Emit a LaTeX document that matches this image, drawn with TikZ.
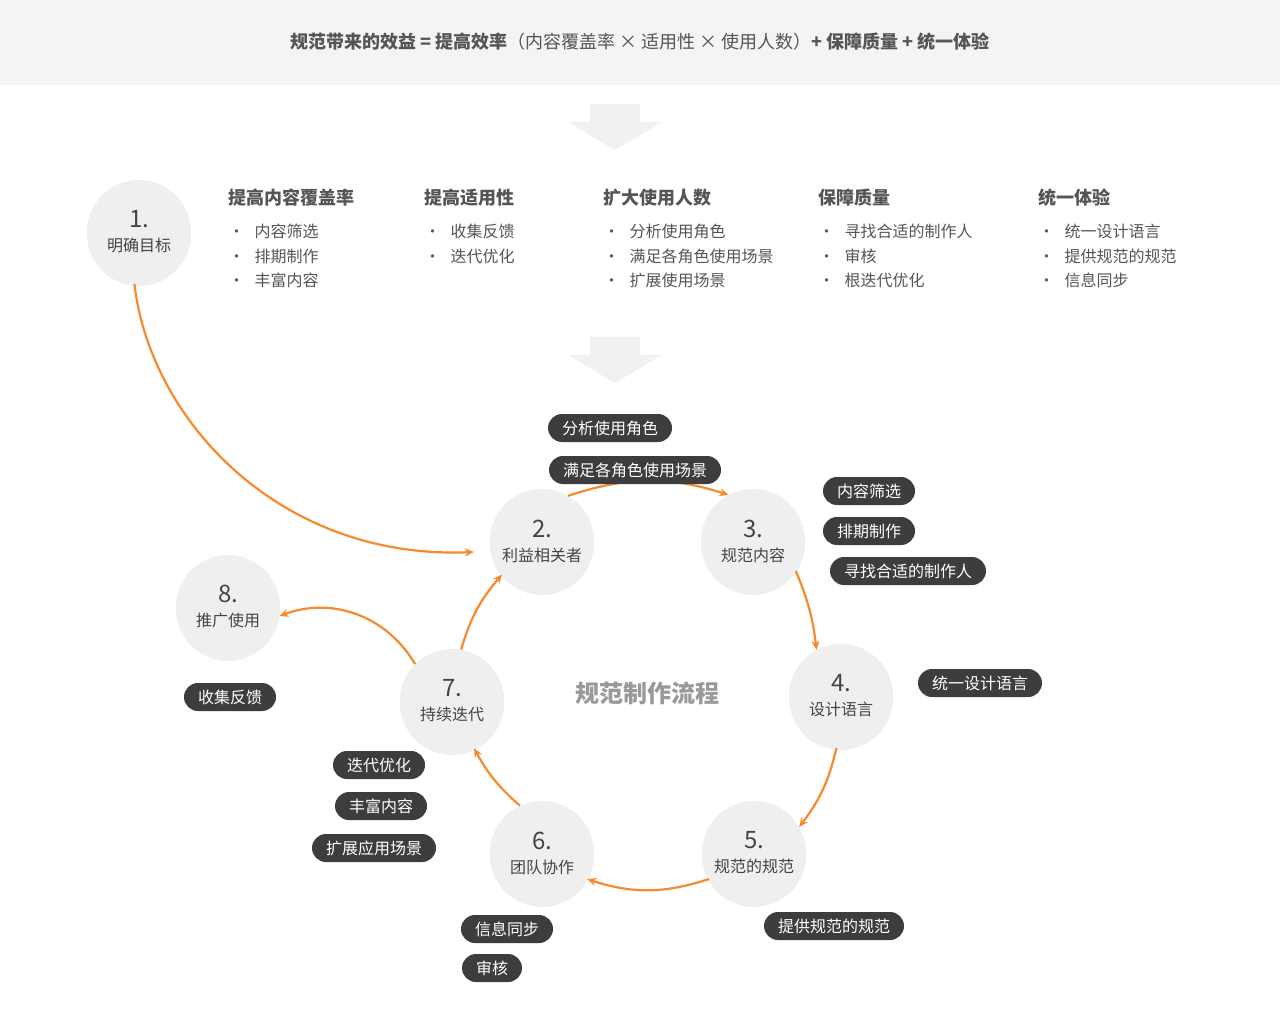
\documentclass[tikz,border=0pt]{standalone}
\usepackage{fontspec}
\setmainfont{Noto Sans CJK SC}
\usetikzlibrary{shadows,arrows.meta}
\definecolor{org}{HTML}{F78A2C}
\definecolor{txt}{HTML}{555555}
\definecolor{pill}{HTML}{3D3D3D}
\definecolor{cir}{HTML}{EFEFEF}
\tikzset{
 stepcirc/.style={circle,fill=cir,minimum size=104pt,inner sep=0pt,align=center,text=txt!80!black,font=\fontsize{16}{22}\selectfont,
   drop shadow={shadow xshift=0pt,shadow yshift=-2pt,opacity=0.12}},
 tag/.style={rounded corners=14pt,fill=pill,text=white,minimum height=28pt,inner xsep=14pt,font=\fontsize{16}{18}\selectfont},
 flow/.style={draw=org,line width=2.2pt,-{Stealth[length=9pt,width=8pt]}},
 hdr/.style={anchor=west,text=txt,font=\fontsize{18}{20}\selectfont\bfseries},
 itm/.style={anchor=west,text=txt,font=\fontsize{16}{18}\selectfont},
 chev/.style={fill=cir!90!white,draw=none}
}
\newcommand{\num}[2]{{\fontsize{24}{30}\selectfont #1}\\[2pt]#2}
\begin{document}
\begin{tikzpicture}[x=1pt,y=-1pt]
\useasboundingbox (0,0) rectangle (1280,1032);
\fill[white] (0,0) rectangle (1280,1032);
\fill[cir!70!white] (0,0) rectangle (1280,85);
\node[text=txt,font=\fontsize{18}{20}\selectfont] (title) at (640,42) {\textbf{规范带来的效益 = 提高效率}（内容覆盖率 × 适用性 × 使用人数）\textbf{+ 保障质量 + 统一体验}};
\fill[chev] (590,104) -- (640,104) -- (640,122) -- (662,122) -- (615,150) -- (568,122) -- (590,122) -- cycle;
\fill[chev] (590,337) -- (640,337) -- (640,355) -- (662,355) -- (615,383) -- (568,355) -- (590,355) -- cycle;

\node[stepcirc] (s1) at (139,232) {\num{1.}{明确目标}};
\foreach \x/\h/\a/\b/\c in {225/提高内容覆盖率/内容筛选/排期制作/丰富内容,421/提高适用性/收集反馈/迭代优化/,600/扩大使用人数/分析使用角色/满足各角色使用场景/扩展使用场景,815/保障质量/寻找合适的制作人/审核/根迭代优化,1035/统一体验/统一设计语言/提供规范的规范/信息同步}{
 \node[hdr] at (\x,198) {\h};
 \node[itm] at (\x,231) {\textbullet\hspace{10pt}\a};
 \node[itm] at (\x,256) {\textbullet\hspace{10pt}\b};
}
\foreach \x/\c in {225/丰富内容,600/扩展使用场景,815/根迭代优化,1035/信息同步}{
 \node[itm] at (\x,280) {\textbullet\hspace{10pt}\c};
}

\node[stepcirc] (s2) at (542,541) {\num{2.}{利益相关者}};
\node[stepcirc] (s3) at (753,541) {\num{3.}{规范内容}};
\node[stepcirc] (s4) at (841,696) {\num{4.}{设计语言}};
\node[stepcirc] (s5) at (754,853) {\num{5.}{规范的规范}};
\node[stepcirc] (s6) at (542,853) {\num{6.}{团队协作}};
\node[stepcirc] (s7) at (452,701) {\num{7.}{持续迭代}};
\node[stepcirc] (s8) at (228,607) {\num{8.}{推广使用}};
\node[text=gray!80,font=\fontsize{24}{26}\selectfont\bfseries] (ctr) at (647,693) {规范制作流程};

\draw[flow] (s2.60) to[bend left=18] (s3.118);
\draw[flow] (s3.-35) to[bend left=8] (s4.118);
\draw[flow] (s4.-95) to[bend left=12] (s5.30);
\draw[flow] (s5.-150) to[bend left=18] (s6.-30);
\draw[flow] (s6.115) to[bend left=10] (s7.-65);
\draw[flow] (s7.80) to[bend left=12] (s2.-140);
\draw[flow] (s7.135) to[bend right=40] (s8.-10);
\draw[flow] (s1.-95) .. controls (150,420) and (280,560) .. (474,552);

\node[tag] (t1) at (610,428) {分析使用角色};
\node[tag] (t2) at (635,470) {满足各角色使用场景};
\node[tag] (t3) at (869,491) {内容筛选};
\node[tag] (t4) at (869,531) {排期制作};
\node[tag] (t5) at (908,571) {寻找合适的制作人};
\node[tag] (t6) at (980,683) {统一设计语言};
\node[tag] (t7) at (834,926) {提供规范的规范};
\node[tag] (t8) at (507,929) {信息同步};
\node[tag] (t9) at (492,968) {审核};
\node[tag] (t10) at (379,765) {迭代优化};
\node[tag] (t11) at (381,806) {丰富内容};
\node[tag] (t12) at (374,848) {扩展应用场景};
\node[tag] (t13) at (230,697) {收集反馈};
\end{tikzpicture}
\end{document}
